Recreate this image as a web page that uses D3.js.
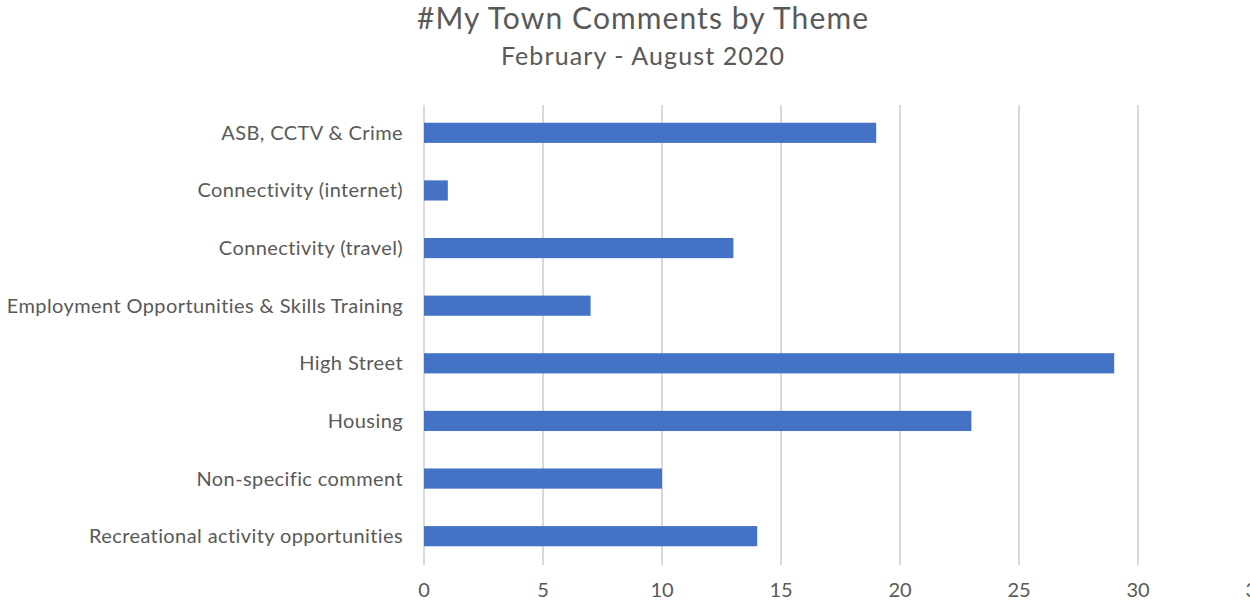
<!DOCTYPE html>
<html><head><meta charset="utf-8">
<script src="https://cdn.jsdelivr.net/npm/d3@7"></script>
<style>html,body{margin:0;padding:0;background:#fff;overflow:hidden}</style>
</head><body>
<script>
const categories = ["ASB, CCTV & Crime","Connectivity (internet)","Connectivity (travel)","Employment Opportunities & Skills Training","High Street","Housing","Non-specific comment","Recreational activity opportunities"];
const values = [19,1,13,7,29,23,10,14];
const xTicks = [0,5,10,15,20,25,30,35];
const title = "#My Town Comments by Theme";
const subtitle = "February - August 2020";

const W = 1250, H = 607;
const font = "Lato, 'Open Sans', sans-serif";
const textColor = "#595959";
const svg = d3.select("body").append("svg").attr("width", W).attr("height", H);

const x = d3.scaleLinear().domain([0,35]).range([424,1257]);
const y = d3.scaleBand().domain(categories).range([104,565]).paddingInner(0.65).paddingOuter(0.325);

svg.append("g").selectAll("line").data(xTicks).join("line")
  .attr("x1", d=>x(d)).attr("x2", d=>x(d)).attr("y1",105).attr("y2",565)
  .attr("stroke","#d9d9d9").attr("stroke-width",2);

svg.append("g").selectAll("rect").data(values).join("rect")
  .attr("x", x(0)).attr("y",(d,i)=>y(categories[i]))
  .attr("width", d=>x(d)-x(0)).attr("height", y.bandwidth())
  .attr("fill","#4472C4");

svg.append("g").selectAll("text").data(categories).join("text")
  .attr("x",403).attr("y", d=>y(d)+y.bandwidth()/2).attr("dy","0.35em")
  .attr("text-anchor","end").attr("font-family",font).attr("font-size",20)
  .attr("letter-spacing","0.4px")
  .attr("fill",textColor).text(d=>d);

svg.append("g").selectAll("text").data(xTicks).join("text")
  .attr("x", d=>x(d)).attr("y",590).attr("dy","0.35em")
  .attr("text-anchor","middle").attr("font-family",font).attr("font-size",20)
  .attr("fill",textColor).text(d=>d);

svg.append("text").attr("x",643).attr("y",29).attr("text-anchor","middle")
  .attr("font-family",font).attr("font-size",30).attr("letter-spacing","1.1px")
  .attr("fill",textColor).text(title);
svg.append("text").attr("x",643).attr("y",65).attr("text-anchor","middle")
  .attr("font-family",font).attr("font-size",25).attr("letter-spacing","1.1px")
  .attr("fill",textColor).text(subtitle);
</script>
</body></html>
